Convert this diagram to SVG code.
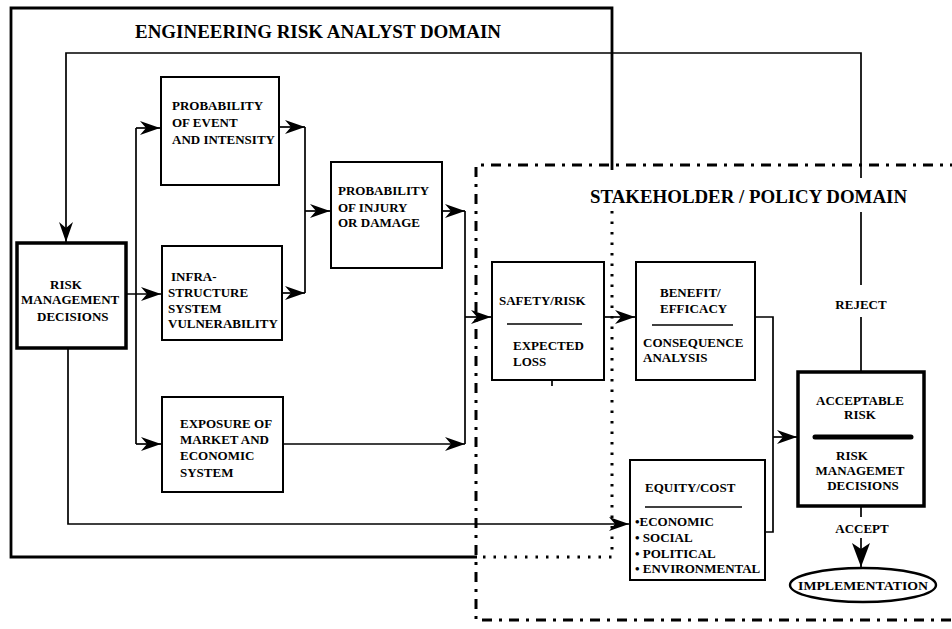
<svg xmlns="http://www.w3.org/2000/svg" width="952" height="629" viewBox="0 0 952 629">
  <style>
    text { font-family: "Liberation Serif", "Times New Roman", serif; font-weight: bold; fill: #000; }
    .t { font-size: 13px; }
    .title { font-size: 18px; }
    .box { fill: #fff; stroke: #000; stroke-width: 2; }
    .thick { stroke-width: 3.5; }
    .wire { fill: none; stroke: #000; stroke-width: 1.7; }
    .rule { stroke: #000; stroke-width: 1.7; }
    .domain { fill: none; stroke: #000; stroke-width: 2.8; }
    .dotted { fill: none; stroke: #000; stroke-width: 3; stroke-dasharray: 2.5 8; }
    .dashdot { fill: none; stroke: #000; stroke-width: 3; stroke-dasharray: 10 7 3 7; }
    .mid { text-anchor: middle; }
  </style>
  <defs>
    <marker id="arr" viewBox="0 0 20 14" refX="20" refY="7" markerWidth="20" markerHeight="14" markerUnits="userSpaceOnUse" orient="auto">
      <path d="M0,0 L20,7 L0,14 L6,7 z" fill="#000"/>
    </marker>
    <marker id="arrBig" viewBox="0 0 24 18" refX="24" refY="9" markerWidth="24" markerHeight="18" markerUnits="userSpaceOnUse" orient="auto">
      <path d="M0,0 L24,9 L0,18 L6,9 z" fill="#000"/>
    </marker>
  </defs>

  <!-- Domain boundaries -->
  <g id="engineering-domain">
    <path class="domain" d="M612,170 V8 H11 V557 H477"/>
    <path class="dotted" d="M612,211 V557 H480"/>
    <text class="title" x="135" y="38" textLength="366" lengthAdjust="spacingAndGlyphs">ENGINEERING RISK ANALYST DOMAIN</text>
  </g>
  <g id="stakeholder-domain">
    <path class="dashdot" d="M960,165 H476 V620 H960"/>
    <text class="title" x="590" y="203" textLength="317" lengthAdjust="spacingAndGlyphs">STAKEHOLDER / POLICY DOMAIN</text>
  </g>

  <!-- Connectors -->
  <g id="connectors">
    <path class="wire" d="M861,372 V317 M861,285 V212 M861,178 V53 H66 V242" marker-end="url(#arr)"/>
    <path class="wire" d="M126,294 H161" marker-end="url(#arr)"/>
    <path class="wire" d="M136,128 V444"/>
    <path class="wire" d="M136,128 H160" marker-end="url(#arr)"/>
    <path class="wire" d="M136,444 H161" marker-end="url(#arr)"/>
    <path class="wire" d="M279,127 H305" marker-end="url(#arr)"/>
    <path class="wire" d="M282,293 H305" marker-end="url(#arr)"/>
    <path class="wire" d="M305,127 V293"/>
    <path class="wire" d="M305,211 H330" marker-end="url(#arr)"/>
    <path class="wire" d="M442,211 H465" marker-end="url(#arr)"/>
    <path class="wire" d="M283,444 H465" marker-end="url(#arr)"/>
    <path class="wire" d="M465,211 V444"/>
    <path class="wire" d="M465,317 H491" marker-end="url(#arr)"/>
    <path class="wire" d="M604,317 H635" marker-end="url(#arr)"/>
    <path class="wire" d="M755,317 H773 V532 H765"/>
    <path class="wire" d="M773,437 H797" marker-end="url(#arr)"/>
    <path class="wire" d="M68,348 V524 H629" marker-end="url(#arr)"/>
    <path class="wire" d="M552,380 V386"/>
    <path class="wire" d="M861,506 V517"/>
    <path class="wire" d="M861,538 V567" marker-end="url(#arrBig)"/>
    <text class="t mid" x="861" y="309">REJECT</text>
    <text class="t mid" x="862" y="533">ACCEPT</text>
  </g>

  <!-- Nodes -->
  <g id="risk-management-decisions">
    <rect class="box thick" x="17" y="243" width="109" height="105"/>
    <text class="t" x="50" y="289">RISK</text>
    <text class="t" x="21" y="304">MANAGEMENT</text>
    <text class="t" x="37" y="321">DECISIONS</text>
  </g>
  <g id="probability-of-event">
    <rect class="box" x="161" y="77" width="118" height="108"/>
    <text class="t" x="172" y="110">PROBABILITY</text>
    <text class="t" x="172" y="127">OF EVENT</text>
    <text class="t" x="172" y="144">AND INTENSITY</text>
  </g>
  <g id="infrastructure-vulnerability">
    <rect class="box" x="162" y="246" width="120" height="94"/>
    <text class="t" x="171" y="281">INFRA-</text>
    <text class="t" x="168" y="297">STRUCTURE</text>
    <text class="t" x="168" y="313">SYSTEM</text>
    <text class="t" x="168" y="328">VULNERABILITY</text>
  </g>
  <g id="exposure-of-market">
    <rect class="box" x="162" y="397" width="121" height="95"/>
    <text class="t" x="180" y="428">EXPOSURE OF</text>
    <text class="t" x="180" y="444">MARKET AND</text>
    <text class="t" x="180" y="460">ECONOMIC</text>
    <text class="t" x="180" y="477">SYSTEM</text>
  </g>
  <g id="probability-of-injury">
    <rect class="box" x="331" y="162" width="111" height="106"/>
    <text class="t" x="338" y="195">PROBABILITY</text>
    <text class="t" x="338" y="212">OF INJURY</text>
    <text class="t" x="338" y="227">OR DAMAGE</text>
  </g>
  <g id="safety-risk">
    <rect class="box" x="492" y="262" width="112" height="118"/>
    <text class="t" x="499" y="305">SAFETY/RISK</text>
    <line class="rule" x1="507" y1="324" x2="582" y2="324"/>
    <text class="t" x="513" y="350">EXPECTED</text>
    <text class="t" x="513" y="366">LOSS</text>
  </g>
  <g id="benefit-efficacy">
    <rect class="box" x="636" y="262" width="119" height="118"/>
    <text class="t" x="660" y="297">BENEFIT/</text>
    <text class="t" x="660" y="313">EFFICACY</text>
    <line class="rule" x1="652" y1="325" x2="733" y2="325"/>
    <text class="t" x="643" y="347">CONSEQUENCE</text>
    <text class="t" x="643" y="362">ANALYSIS</text>
  </g>
  <g id="equity-cost">
    <rect class="box" x="630" y="460" width="135" height="120"/>
    <text class="t" x="645" y="492">EQUITY/COST</text>
    <line class="rule" x1="645" y1="507" x2="742" y2="507"/>
    <text class="t" x="635" y="526">•ECONOMIC</text>
    <text class="t" x="635" y="542">• SOCIAL</text>
    <text class="t" x="635" y="558">• POLITICAL</text>
    <text class="t" x="635" y="573">• ENVIRONMENTAL</text>
  </g>
  <g id="acceptable-risk">
    <rect class="box thick" x="798" y="372" width="126" height="134"/>
    <text class="t mid" x="860" y="405">ACCEPTABLE</text>
    <text class="t mid" x="860" y="419">RISK</text>
    <line x1="815" y1="437" x2="911" y2="437" stroke="#000" stroke-width="5" stroke-linecap="round"/>
    <text class="t mid" x="852" y="460">RISK</text>
    <text class="t mid" x="860" y="475">MANAGEMET</text>
    <text class="t mid" x="863" y="490">DECISIONS</text>
  </g>
  <g id="implementation">
    <ellipse cx="863" cy="585" rx="73" ry="17" fill="#fff" stroke="#000" stroke-width="2.4"/>
    <text class="t mid" x="863" y="590" textLength="130" lengthAdjust="spacingAndGlyphs">IMPLEMENTATION</text>
  </g>
</svg>
